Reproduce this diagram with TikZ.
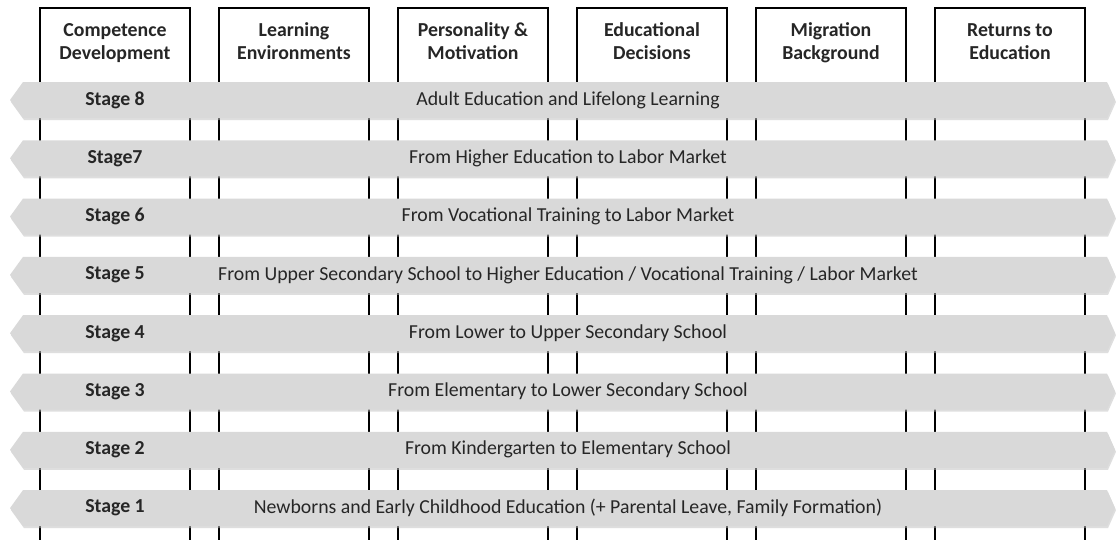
\documentclass[tikz,border=0pt]{standalone}
\usepackage{fontspec}
\setmainfont{Carlito}
\begin{document}
\begin{tikzpicture}[x=1pt,y=-1pt,
  colline/.style={line width=2pt,draw=black,fill=white},
  head/.style={font=\fontsize{19.8}{23}\selectfont\bfseries,align=center,text=black!85,anchor=north,inner sep=0pt},
  band/.style={fill=black!15,draw=none},
  bandshadow/.style={fill=black!25,draw=none,opacity=0.5},
  stagelbl/.style={font=\fontsize{19.8}{23}\selectfont\bfseries,text=black!85},
  stagetxt/.style={font=\fontsize{19.8}{23}\selectfont,text=black!85}]
\useasboundingbox (0,0) rectangle (1116,539);
\fill[white] (0,0) rectangle (1116,539);
% columns
\foreach \i/\l/\t in {1/40/{Competence\\Development},2/219/{Learning\\Environments},3/398/{Personality \&\\Motivation},4/577/{Educational\\Decisions},5/756/{Migration\\Background},6/935/{Returns to\\Education}}{
  \draw[colline] (\l,545) -- (\l,8) -- ({\l+150},8) -- ({\l+150},545);
  \node[head] (h\i) at ({\l+75},20.5) {\strut\t};
}
% bands
\foreach \s/\lbl/\txt in {8/Stage 8/{Adult Education and Lifelong Learning},
  7/Stage7/{From Higher Education to Labor Market},
  6/Stage 6/{From Vocational Training to Labor Market},
  5/Stage 5/{From Upper Secondary School to Higher Education / Vocational Training / Labor Market},
  4/Stage 4/{From Lower to Upper Secondary School},
  3/Stage 3/{From Elementary to Lower Secondary School},
  2/Stage 2/{From Kindergarten to Elementary School},
  1/Stage 1/{Newborns and Early Childhood Education (+ Parental Leave, Family Formation)}}{
  \pgfmathsetmacro{\cy}{100+(8-\s)*58.3}
  \fill[bandshadow] (24,\cy-16) -- (1108,\cy-16) -- (1116,\cy+2) -- (1108,\cy+20) -- (24,\cy+20) -- (11,\cy+2) -- cycle;
  \fill[band] (23,\cy-18) -- (1107,\cy-18) -- (1115,\cy) -- (1107,\cy+18) -- (23,\cy+18) -- (10,\cy) -- cycle;
  \node[stagelbl] (s\s) at (115,\cy) {\lbl};
  \node[stagetxt] (t\s) at (568,\cy) {\txt};
}
\end{tikzpicture}
\end{document}
